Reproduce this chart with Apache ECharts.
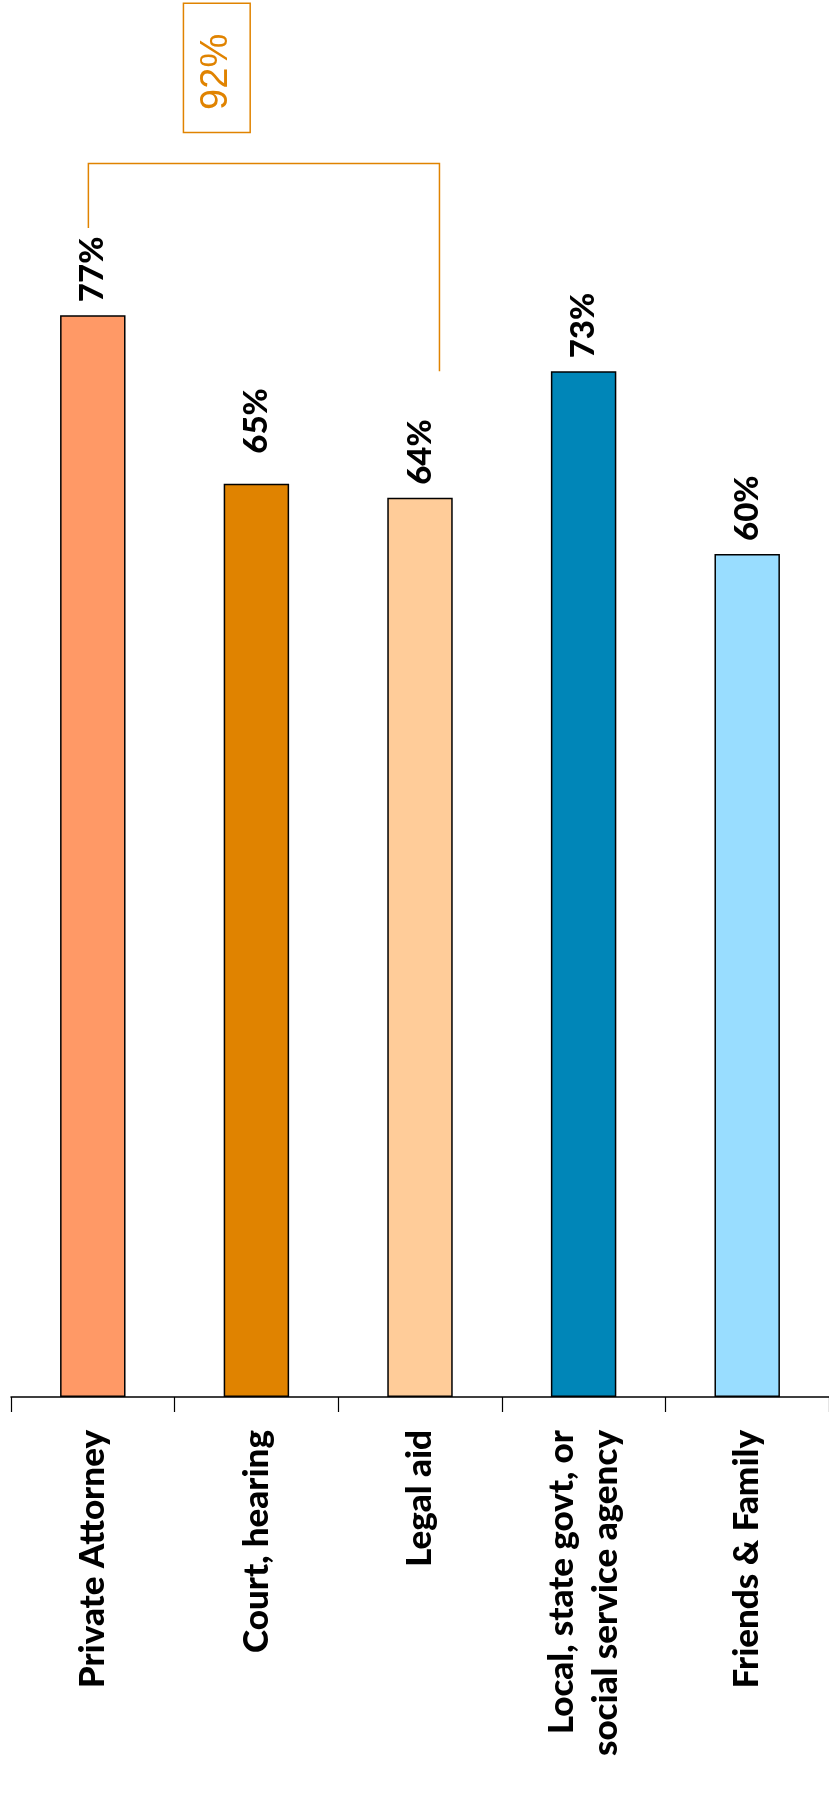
<!DOCTYPE html>
<html>
<head>
<meta charset="utf-8">
<script src="https://cdn.jsdelivr.net/npm/echarts@6/dist/echarts.min.js"></script>
<style>html,body{margin:0;padding:0;background:#fff}#c{width:829px;height:1801px}</style>
</head>
<body>
<div id="c"></div>
<script>
// ---- data ----
const categories = ['Private Attorney', 'Court, hearing', 'Legal aid', 'Local, state govt, or\nsocial service agency', 'Friends & Family'];
const values = [77, 65, 64, 73, 60];
const barColors = ['#FF9966', '#E08300', '#FFCC99', '#0086B8', '#99DDFF'];
// bracket annotation (x in category units along the axis, y in %)
const bracketX = [0.473, 2.619];
const bracketTop = 87.8;
const bracketLegBottoms = [83.2, 73.0];
const bracketLabel = '92%';
const bracketBoxX = [1.054, 1.462];
const bracketBoxY = [90.0, 99.2];

const chart = echarts.init(document.getElementById('c'), null, {renderer: 'canvas'});
const orange = '#E08300';
const font = 'Lato';

const option = {
  animation: false,
  backgroundColor: '#fff',
  grid: {left: 11, top: 0, width: 821, height: 1397, containLabel: false},
  xAxis: [{
    type: 'category',
    data: categories,
    axisLine: {show: true, lineStyle: {color: '#000', width: 1.5}},
    axisTick: {show: true, length: 15, lineStyle: {color: '#000', width: 1.2}},
    axisLabel: {
      show: true, interval: 0, rotate: 90, margin: 33,
      fontSize: 35, fontWeight: 900, fontFamily: font, color: '#000', lineHeight: 44
    }
  }, {
    type: 'value', min: 0, max: 5, show: false
  }],
  yAxis: {type: 'value', min: 0, max: 99.43, show: false},
  series: [{
    type: 'bar',
    xAxisIndex: 0,
    barWidth: '40%',
    data: values.map((v, i) => ({
      value: v,
      itemStyle: {color: barColors[i], borderColor: '#000', borderWidth: 1.5},
      label: i === 1 ? {distance: 30} : undefined
    })),
    label: {
      show: true, position: 'top', rotate: 90, align: 'left', verticalAlign: 'middle',
      distance: 13, formatter: '{c}%',
      fontSize: 33, fontWeight: 900, fontFamily: font, color: '#000'
    }
  }, {
    type: 'custom',
    xAxisIndex: 1,
    data: [[0, 0]],
    silent: true,
    renderItem: function (params, api) {
      const pL0 = api.coord([bracketX[0], bracketLegBottoms[0]]);
      const pLT = api.coord([bracketX[0], bracketTop]);
      const pRT = api.coord([bracketX[1], bracketTop]);
      const pR0 = api.coord([bracketX[1], bracketLegBottoms[1]]);
      const b0 = api.coord([bracketBoxX[0], bracketBoxY[1]]);
      const b1 = api.coord([bracketBoxX[1], bracketBoxY[0]]);
      return {
        type: 'group',
        children: [{
          type: 'polyline',
          shape: {points: [pL0, pLT, pRT, pR0]},
          style: {stroke: orange, lineWidth: 1.5, fill: null}
        }, {
          type: 'rect',
          shape: {x: b0[0], y: b0[1], width: b1[0] - b0[0], height: b1[1] - b0[1]},
          style: {stroke: orange, lineWidth: 1.5, fill: '#fff'}
        }, {
          type: 'text',
          x: (b0[0] + b1[0]) / 2,
          y: (b0[1] + b1[1]) / 2 + 4,
          rotation: Math.PI / 2,
          style: {
            text: bracketLabel, fill: orange, fontSize: 38, fontFamily: 'Liberation Sans',
            align: 'center', verticalAlign: 'middle'
          }
        }]
      };
    }
  }]
};
chart.setOption(option);
</script>
</body>
</html>
